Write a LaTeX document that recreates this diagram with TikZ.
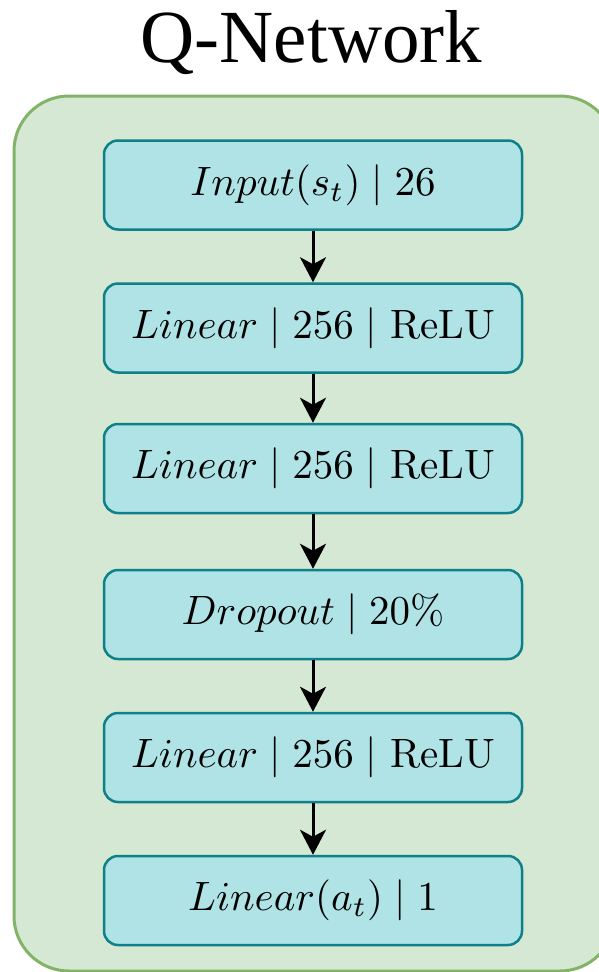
\documentclass[tikz,border=0pt]{standalone}
\usepackage{fontspec}
\newfontfamily\titlefont{Liberation Serif}
\usetikzlibrary{arrows.meta}
\definecolor{panelfill}{HTML}{D5E8D4}
\definecolor{panelline}{HTML}{82B366}
\definecolor{layerfill}{HTML}{B0E3E6}
\definecolor{layerline}{HTML}{0E8088}
% layer labels are set at 10pt and enlarged
\newcommand{\biglabel}[1]{\scalebox{4.1}{#1}}
\tikzset{
  layer/.style={draw=layerline, fill=layerfill, line width=2.5pt,
    rounded corners=14pt, minimum width=418pt, minimum height=89pt,
    inner sep=0pt},
  flow/.style={-{Stealth[length=25pt,width=26pt,inset=7pt]},
    line width=3pt, black}
}
\begin{document}
\begin{tikzpicture}[x=1pt,y=-1pt]
  \useasboundingbox (0,0) rectangle (599,972);
  \clip (0,0) rectangle (599,972);
  \fill[white] (0,0) rectangle (599,972);
  % panel behind the layers
  \draw[panelline, fill=panelfill, line width=3pt, rounded corners=55pt]
    (14,96) rectangle (615,971);
  \node[anchor=base, font=\titlefont\fontsize{75}{90}\selectfont]
    (title) at (311.5,62) {Q-Network};
  % layers
  \node[layer] (in) at (313,185)   {\biglabel{$Input(s_t) \mid 26$}};
  \node[layer] (l1) at (313,328)   {\biglabel{$Linear \mid 256 \mid$ ReLU}};
  \node[layer] (l2) at (313,468.5) {\biglabel{$Linear \mid 256 \mid$ ReLU}};
  \node[layer] (dr) at (313,614.5) {\biglabel{$Dropout \mid 20\%$}};
  \node[layer] (l3) at (313,757.5) {\biglabel{$Linear \mid 256 \mid$ ReLU}};
  \node[layer] (out) at (313,900.5) {\biglabel{$Linear(a_t) \mid 1$}};
  % connections
  \draw[flow] (in) -- (l1);
  \draw[flow] (l1) -- (l2);
  \draw[flow] (l2) -- (dr);
  \draw[flow] (dr) -- (l3);
  \draw[flow] (l3) -- (out);
\end{tikzpicture}
\end{document}
